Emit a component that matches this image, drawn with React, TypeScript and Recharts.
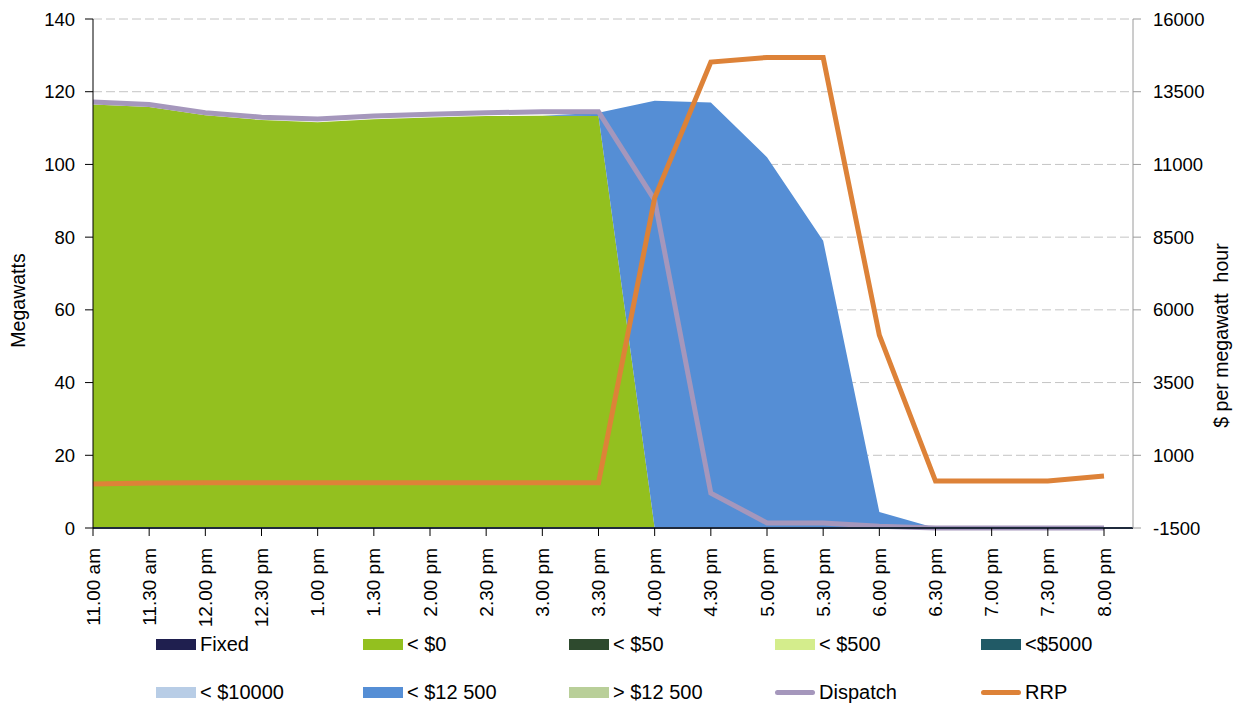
import React from "react";
import {
  ComposedChart,
  Area,
  Line,
  XAxis,
  YAxis,
  CartesianGrid,
  Legend,
} from "recharts";

const times = [
  "11.00 am", "11.30 am", "12.00 pm", "12.30 pm", "1.00 pm", "1.30 pm",
  "2.00 pm", "2.30 pm", "3.00 pm", "3.30 pm", "4.00 pm", "4.30 pm",
  "5.00 pm", "5.30 pm", "6.00 pm", "6.30 pm", "7.00 pm", "7.30 pm", "8.00 pm",
];

const fixed = times.map(() => 0);
const below0 = [116.5, 115.8, 113.5, 112.2, 111.6, 112.4, 112.9, 113.3, 113.4, 113.3, 0, 0, 0, 0, 0, 0, 0, 0, 0];
const below50 = times.map(() => 0);
const below500 = times.map(() => 0);
const below5000 = times.map(() => 0);
const below10000 = times.map(() => 0);
const below12500 = [0, 0, 0, 0, 0, 0, 0, 0, 0, 0.9, 117.5, 117, 102, 79, 4.4, 0, 0, 0, 0];
const above12500 = times.map(() => 0);
const dispatch = [117.2, 116.5, 114.2, 113, 112.5, 113.3, 113.8, 114.2, 114.5, 114.5, 90.2, 9.6, 1.4, 1.4, 0.5, 0, 0, 0, 0];
const rrp = [15, 50, 55, 55, 55, 55, 55, 55, 55, 55, 9850, 14520, 14680, 14680, 5130, 115, 115, 115, 290];

const leftTicks = [0, 20, 40, 60, 80, 100, 120, 140];
const rightTicks = [-1500, 1000, 3500, 6000, 8500, 11000, 13500, 16000];

const stackNames = ["Fixed", "< $0", "< $50", "< $500", "<$5000", "< $10000", "< $12 500", "> $12 500"];
const stackColors = ["#1f1f4f", "#93c01f", "#2e4a2e", "#d4ed8c", "#215a66", "#b8cde6", "#558ed5", "#b9cf99"];
const stackSeries = [fixed, below0, below50, below500, below5000, below10000, below12500, above12500];

const legendItems = [
  ...stackNames.map((n, i) => ({ name: n, color: stackColors[i], line: false })),
  { name: "Dispatch", color: "#a597bc", line: true },
  { name: "RRP", color: "#dd8238", line: true },
];

const data = times.map((t, i) => {
  const row: Record<string, number | string> = { time: t, dispatch: dispatch[i], rrp: rrp[i] };
  stackSeries.forEach((s, k) => {
    row["s" + k] = s[i];
  });
  return row;
});

const FONT = "'Liberation Sans', Arial, sans-serif";

const legendCols = [156, 363, 569, 775, 981];
const legendRows = [16, 64];

const LegendBox = () => (
  <div style={{ position: "relative", width: 1242, height: 76, fontFamily: FONT, fontSize: 20, color: "#000" }}>
    {legendItems.map((it, i) => {
      const col = i % 5;
      const row = Math.floor(i / 5);
      return (
        <div
          key={it.name}
          style={{
            position: "absolute",
            left: legendCols[col],
            top: legendRows[row] - 12,
            height: 24,
            display: "flex",
            alignItems: "center",
            whiteSpace: "nowrap",
          }}
        >
          {it.line ? (
            <span style={{ display: "inline-block", width: 40, height: 5, borderRadius: 3, background: it.color, marginRight: 4 }} />
          ) : (
            <span style={{ display: "inline-block", width: 40, height: 11, background: it.color, marginRight: 4 }} />
          )}
          <span>{it.name}</span>
        </div>
      );
    })}
  </div>
);

const XTick = (props: any) => {
  const { x, y, payload } = props;
  return (
    <text
      x={x}
      y={y + 10}
      transform={`rotate(-90 ${x} ${y + 10})`}
      textAnchor="end"
      dominantBaseline="central"
      fontFamily={FONT}
      fontSize={19}
      fill="#000"
    >
      {payload.value}
    </text>
  );
};

export default function App() {
  return (
    <div style={{ position: "absolute", left: 0, top: 0, width: 1242, height: 704, background: "#fff" }}>
      <ComposedChart
        width={1242}
        height={704}
        data={data}
        margin={{ top: 19, right: 0, left: 0, bottom: 0 }}
      >
        <CartesianGrid vertical={false} stroke="#c4c4c4" strokeDasharray="9 4" yAxisId="left" />
        <XAxis
          dataKey="time"
          type="category"
          interval={0}
          height={100}
          padding={{ left: 0, right: 29 }}
          tick={<XTick />}
          tickSize={8}
          tickLine={{ stroke: "#000" }}
          axisLine={{ stroke: "#1f2a3c", strokeWidth: 2 }}
        />
        <YAxis
          yAxisId="left"
          orientation="left"
          width={93}
          domain={[0, 140]}
          ticks={leftTicks}
          interval={0}
          tickSize={8}
          tickMargin={10}
          axisLine={{ stroke: "#000" }}
          tickLine={{ stroke: "#000" }}
          tick={{ fill: "#000", fontSize: 18.5, fontFamily: FONT }}
          label={{ value: "Megawatts", angle: -90, position: "center", dx: -28, dy: 27, fill: "#000", fontSize: 19.5, fontFamily: FONT }}
        />
        <YAxis
          yAxisId="right"
          orientation="right"
          width={109}
          domain={[-1500, 16000]}
          ticks={rightTicks}
          interval={0}
          tickSize={8}
          tickMargin={12}
          axisLine={{ stroke: "#9a9a9a" }}
          tickLine={{ stroke: "#9a9a9a" }}
          tick={{ fill: "#000", fontSize: 18.5, fontFamily: FONT, textAnchor: "start" }}
          label={{ value: "$ per megawatt\u00a0 hour", angle: -90, position: "center", dx: 34, dy: 62, fill: "#000", fontSize: 19.5, fontFamily: FONT }}
        />
        {stackSeries.map((_, k) => (
          <Area
            key={k}
            yAxisId="left"
            type="linear"
            dataKey={"s" + k}
            name={stackNames[k]}
            stackId="bids"
            fill={stackColors[k]}
            fillOpacity={1}
            stroke="none"
            isAnimationActive={false}
          />
        ))}
        <Line
          yAxisId="left"
          type="linear"
          dataKey="dispatch"
          name="Dispatch"
          stroke="#a597bc"
          strokeWidth={5}
          dot={false}
          isAnimationActive={false}
        />
        <Line
          yAxisId="right"
          type="linear"
          dataKey="rrp"
          name="RRP"
          stroke="#dd8238"
          strokeWidth={5}
          dot={false}
          isAnimationActive={false}
        />
        <Legend verticalAlign="bottom" align="left" wrapperStyle={{ left: 0, width: 1242 }} content={() => <LegendBox />} />
      </ComposedChart>
    </div>
  );
}
